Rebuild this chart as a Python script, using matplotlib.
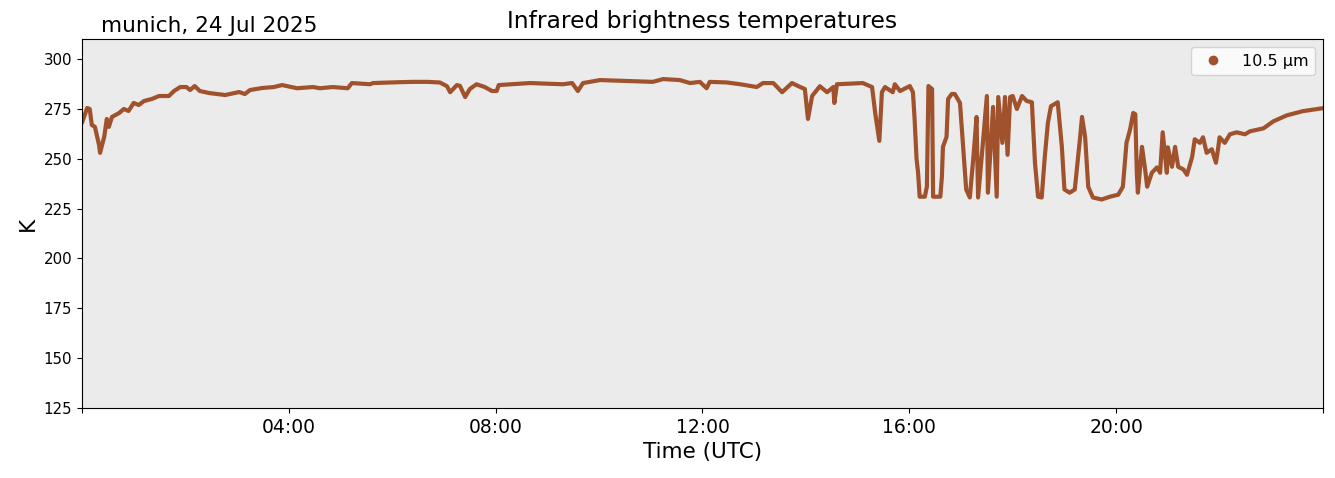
import numpy as np
import pandas as pd
import matplotlib
matplotlib.use("Agg")
import matplotlib.pyplot as plt
import matplotlib.dates as mdates
from matplotlib.lines import Line2D

# brightness temperature at 10.5 um (hours UTC, K)
hours = [0.0, 0.1, 0.15, 0.19, 0.25, 0.33, 0.35, 0.43, 0.48, 0.52, 0.58, 0.72, 0.81, 0.9,
         1.0, 1.1, 1.2, 1.35, 1.49, 1.68, 1.78, 1.9, 2.02, 2.09, 2.18, 2.28, 2.46, 2.77,
         3.04, 3.15, 3.25, 3.48, 3.71, 3.87, 4.16, 4.47, 4.6, 4.85, 5.14, 5.22, 5.57, 5.63,
         6.09, 6.4, 6.67, 6.92, 7.06, 7.12, 7.25, 7.31, 7.41, 7.5, 7.63, 7.79, 7.93, 8.02,
         8.06, 8.66, 9.3, 9.48, 9.59, 9.69, 10.02, 10.6, 11.04, 11.24, 11.56, 11.76, 11.95,
         12.08, 12.14, 12.47, 12.73, 13.05, 13.17, 13.37, 13.54, 13.73, 13.89, 13.98, 14.04,
         14.12, 14.27, 14.41, 14.53, 14.55, 14.6, 15.1, 15.28, 15.34, 15.42, 15.47, 15.53,
         15.68, 15.72, 15.82, 16.01, 16.07, 16.1, 16.14, 16.17, 16.2, 16.3, 16.34, 16.37,
         16.44, 16.46, 16.6, 16.63, 16.65, 16.72, 16.75, 16.82, 16.88, 16.98, 17.04, 17.1,
         17.17, 17.24, 17.3, 17.33, 17.4, 17.5, 17.52, 17.62, 17.69, 17.72, 17.8, 17.85,
         17.9, 17.95, 18.0, 18.08, 18.18, 18.27, 18.37, 18.43, 18.49, 18.56, 18.62, 18.68,
         18.74, 18.87, 18.95, 19.0, 19.1, 19.2, 19.3, 19.34, 19.4, 19.46, 19.55, 19.72,
         19.88, 20.04, 20.13, 20.2, 20.27, 20.33, 20.37, 20.4, 20.42, 20.5, 20.56, 20.6,
         20.69, 20.79, 20.85, 20.9, 20.98, 21.0, 21.08, 21.14, 21.2, 21.3, 21.37, 21.47,
         21.52, 21.62, 21.68, 21.75, 21.85, 21.93, 21.97, 22.0, 22.1, 22.2, 22.33, 22.49,
         22.59, 22.85, 23.04, 23.3, 23.61, 23.88, 24.0]
tb_105 = [268, 275.5, 275, 267, 266, 257, 253, 261, 270, 266, 271, 273, 275, 274,
          278, 277, 279, 280, 281.5, 281.5, 284, 286, 286, 284.5, 286.5, 284, 283, 282,
          283.5, 282.5, 284.5, 285.5, 286, 287, 285.4, 286, 285.4, 286, 285.4, 288, 287.4, 288,
          288.4, 288.6, 288.6, 288.3, 286.4, 283.4, 287, 286.6, 281, 285, 287.4, 286, 284, 284,
          287, 288, 287.4, 288, 284, 288, 289.5, 289, 288.6, 290, 289.5, 288, 288.6,
          285.4, 288.6, 288.3, 287.4, 286, 288, 288, 283.4, 288, 286, 285, 270,
          281.5, 286.4, 283.4, 286, 278, 287.4, 288, 286, 273, 259, 283.4, 286,
          283.4, 287.4, 284, 286.5, 283.4, 271, 250, 243, 231, 231, 236, 286.5,
          285, 231, 231, 241, 256, 261, 280, 282.5, 282.5, 278, 256, 234.6,
          230.6, 251, 271, 230.6, 251, 281.5, 233, 276, 231, 281, 258, 281,
          252, 281, 281.5, 275, 281.5, 279, 278.4, 248, 231, 230.6, 251, 268,
          276.4, 278.4, 256, 234.6, 233, 234.6, 260, 271, 261, 236, 230.6, 229.6,
          231, 232, 236, 258, 264.8, 273, 272.4, 243, 233, 256, 244.7, 236,
          243, 245.7, 243, 263.3, 243, 255.8, 246, 256, 246, 244.7, 242, 251,
          259.8, 258, 260.8, 253, 254.8, 248, 254.8, 260.8, 258, 262.3, 263.3, 262.3,
          263.8, 265.3, 268.8, 271.8, 273.9, 274.9, 275.4]

yticks = [125, 150, 175, 200, 225, 250, 275, 300]
day = pd.Timestamp("2025-07-24")
times = day + pd.to_timedelta(hours, unit="h")

col = "sienna"

fig = plt.figure(figsize=(13.35, 4.78), dpi=100)
ax = fig.add_axes([0.0614, 0.1464, 0.9296, 0.7716])
ax.set_facecolor("#ebebeb")

ax.plot(times, tb_105, color=col, lw=3.0, solid_joinstyle="round", solid_capstyle="round")

ax.set_xlim(day, day + pd.Timedelta(hours=24))
ax.set_ylim(125, 310)
ax.set_yticks(yticks)
ax.tick_params(axis="y", labelsize=10.8)
ax.tick_params(axis="x", labelsize=13.5)

ax.xaxis.set_major_locator(mdates.HourLocator(byhour=range(0, 24, 4)))
fmt = mdates.DateFormatter("%H:%M")
ax.xaxis.set_major_formatter(plt.FuncFormatter(
    lambda v, p: "" if fmt(v) == "00:00" else fmt(v)))

ax.set_xlabel("Time (UTC)", fontsize=15.5)
ax.set_ylabel("K", fontsize=15.5)
ax.set_title("Infrared brightness temperatures", fontsize=16.8, pad=8)
fig.text(0.0757, 0.933, "munich, 24 Jul 2025", fontsize=15.6, ha="left", va="baseline")

handle = Line2D([], [], color=col, marker="o", ls="", ms=6)
ax.legend([handle], ["10.5 µm"], loc="upper right", fontsize=11.5)

fig.savefig("out.png", dpi=100)
